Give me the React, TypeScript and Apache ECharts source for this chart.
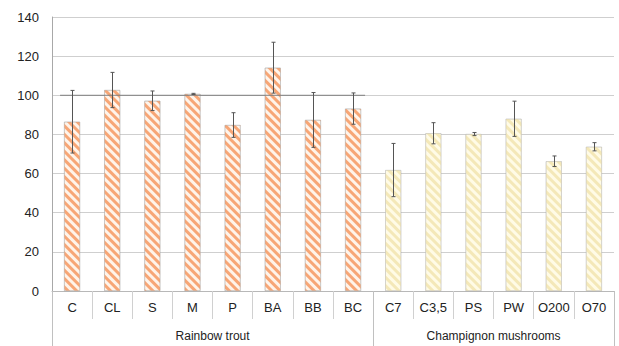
import React, { useEffect, useRef } from "react";
import * as echarts from "echarts";

const categories = ["C", "CL", "S", "M", "P", "BA", "BB", "BC", "C7", "C3,5", "PS", "PW", "O200", "O70"];
const troutValues = [86.5, 102.7, 97.2, 100.7, 84.8, 114.1, 87.4, 93.2];
const troutErrors = [16, 9, 5, 0.3, 6.3, 13, 14, 8];
const mushroomValues = [61.8, 80.6, 80.2, 88, 66.3, 73.7];
const mushroomErrors = [13.6, 5.4, 0.8, 9, 2.7, 2.1];
const groupLabels = ["Rainbow trout", "Champignon mushrooms"];
const groupSizes = [8, 6];
const referenceValue = 100;
const yMin = 0;
const yMax = 140;
const yInterval = 20;

export default function App() {
  const ref = useRef<HTMLDivElement>(null);
  useEffect(() => {
    if (!ref.current) return;
    const chart = echarts.init(ref.current, null, { renderer: "svg" });
    const n = categories.length;
    const troutData = categories.map((_, i) => (i < troutValues.length ? troutValues[i] : null));
    const mushData = categories.map((_, i) =>
      i >= troutValues.length ? mushroomValues[i - troutValues.length] : null
    );
    const allVals = [...troutValues, ...mushroomValues];
    const allErrs = [...troutErrors, ...mushroomErrors];
    const errData = allVals.map((v, i) => [i, v - allErrs[i], v + allErrs[i]]);
    const boundaries: number[] = [0];
    let acc = 0;
    groupSizes.forEach((s) => {
      acc += s;
      boundaries.push(acc);
    });
    const centers = groupSizes.map((s, i) => boundaries[i] + s / 2);
    const font = "'Liberation Sans', Arial, sans-serif";

    chart.setOption({
      animation: false,
      grid: { left: 52, right: 5, top: 17, bottom: 55 },
      xAxis: [
        {
          type: "category",
          data: categories,
          axisLine: { show: true, lineStyle: { color: "#b8b8b8" } },
          axisTick: { show: true, interval: 0, length: 28, lineStyle: { color: "#d0d0d0" } },
          axisLabel: { interval: 0, margin: 10, fontSize: 13, color: "#222", fontFamily: font },
          splitLine: { show: false },
        },
        {
          type: "value",
          min: 0,
          max: n,
          position: "bottom",
          axisLine: { show: false },
          splitLine: { show: false },
          axisTick: {
            show: true,
            customValues: boundaries,
            length: 55,
            lineStyle: { color: "#c0c0c0" },
          },
          axisLabel: {
            show: true,
            customValues: centers,
            margin: 39,
            fontSize: 12,
            color: "#222",
            fontFamily: font,
            formatter: (v: number) => {
              const idx = centers.findIndex((c) => Math.abs(c - v) < 1e-6);
              return idx >= 0 ? groupLabels[idx] : "";
            },
          },
        },
      ],
      yAxis: {
        type: "value",
        min: yMin,
        max: yMax,
        interval: yInterval,
        axisLine: { show: true, lineStyle: { color: "#a8a8a8" } },
        axisTick: { show: false },
        axisLabel: { fontSize: 13, color: "#222", margin: 13, fontFamily: font },
        splitLine: { show: true, lineStyle: { color: "#cfcfcf", width: 1 } },
      },
      series: [
        {
          type: "bar",
          data: troutData,
          barWidth: 16,
          barGap: "-100%",
          itemStyle: {
            color: "#FFF4EA",
            borderColor: "rgba(160,160,160,0.55)",
            borderWidth: 0.6,
            decal: {
              symbol: "rect",
              symbolSize: 1,
              color: "#F7A676",
              dashArrayX: [1, 0],
              dashArrayY: [3, 3],
              rotation: Math.PI / 4,
            },
          },
        },
        {
          type: "bar",
          data: mushData,
          barWidth: 16,
          barGap: "-100%",
          itemStyle: {
            color: "#FFFBE6",
            borderColor: "rgba(170,170,170,0.5)",
            borderWidth: 0.6,
            decal: {
              symbol: "rect",
              symbolSize: 1,
              color: "#F4E8B8",
              dashArrayX: [1, 0],
              dashArrayY: [3, 3],
              rotation: Math.PI / 4,
            },
          },
        },
        {
          type: "custom",
          data: errData,
          z: 10,
          renderItem: (params: any, api: any) => {
            const x = api.value(0);
            const lo = api.coord([x, api.value(1)]);
            const hi = api.coord([x, api.value(2)]);
            const cx = Math.round(lo[0]) + 0.5;
            const style = { stroke: "#555", lineWidth: 1 };
            return {
              type: "group",
              children: [
                { type: "line", shape: { x1: cx, y1: hi[1], x2: cx, y2: lo[1] }, style },
                { type: "line", shape: { x1: cx - 2, y1: hi[1], x2: cx + 2, y2: hi[1] }, style },
                { type: "line", shape: { x1: cx - 2, y1: lo[1], x2: cx + 2, y2: lo[1] }, style },
              ],
            };
          },
        },
      ],
    });

    const p0 = chart.convertToPixel({ xAxisIndex: 0, yAxisIndex: 0 }, [0, referenceValue]) as number[];
    const p1 = chart.convertToPixel({ xAxisIndex: 0, yAxisIndex: 0 }, [troutValues.length - 1, referenceValue]) as number[];
    if (p0 && p1) {
      chart.setOption({
        graphic: [
          {
            type: "line",
            z: 5,
            shape: { x1: p0[0] - 12, y1: p0[1], x2: p1[0] + 12, y2: p1[1] },
            style: { stroke: "#7f7f7f", lineWidth: 1 },
          },
        ],
      });
    }

    return () => chart.dispose();
  }, []);
  return <div ref={ref} style={{ width: 619, height: 346, position: "absolute", left: 0, top: 0 }} />;
}
